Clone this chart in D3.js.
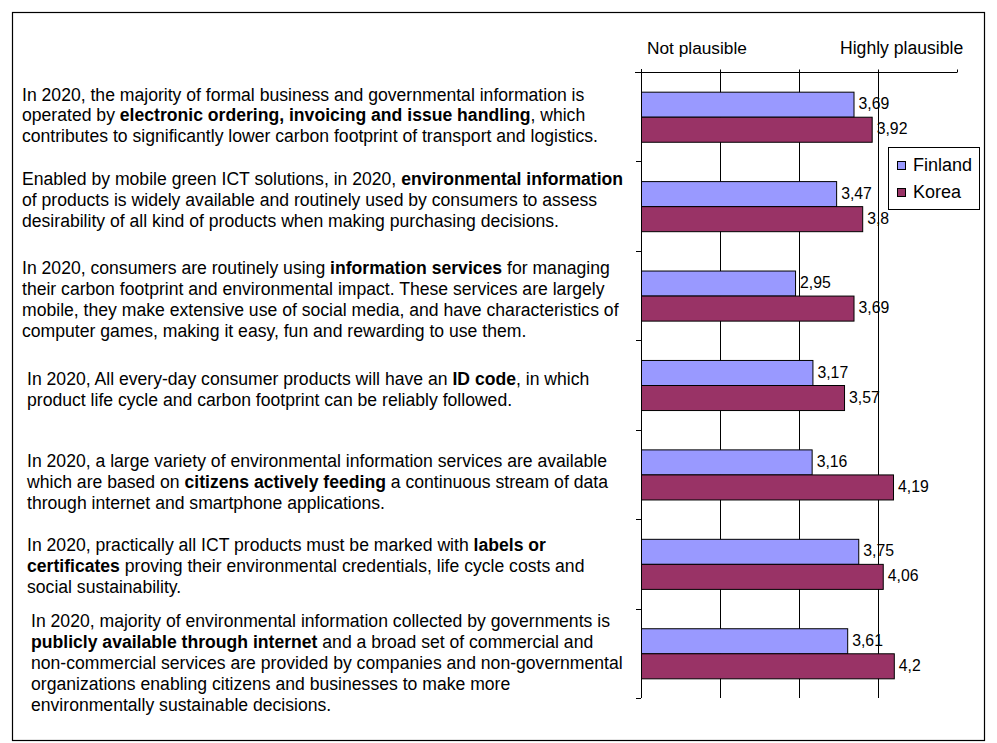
<!DOCTYPE html>
<html>
<head>
<meta charset="utf-8">
<script src="https://cdn.jsdelivr.net/npm/d3@7"></script>
<style>
  html, body { margin: 0; padding: 0; background: #fff; }
  svg { display: block; font-family: "Liberation Sans", Arial, sans-serif; }
</style>
</head>
<body>
<svg id="chart" width="997" height="743"></svg>
<script>
// ---- data ----
const categories = [
  ["In 2020, the majority of formal business and governmental information is",
   "operated by **electronic ordering, invoicing and issue handling**, which",
   "contributes to significantly lower carbon footprint of transport and logistics."],
  ["Enabled by mobile green ICT solutions, in 2020, **environmental information**",
   "of products is widely available and routinely used by consumers to assess",
   "desirability of all kind of products when making purchasing decisions."],
  ["In 2020, consumers are routinely using **information services** for managing",
   "their carbon footprint and environmental impact. These services are largely",
   "mobile, they make extensive use of social media, and have characteristics of",
   "computer games, making it easy, fun and rewarding to use them."],
  ["In 2020, All every-day consumer products will have an **ID code**, in which",
   "product life cycle and carbon footprint can be reliably followed."],
  ["In 2020, a large variety of environmental information services are available",
   "which are based on **citizens actively feeding** a continuous stream of data",
   "through internet and smartphone applications."],
  ["In 2020, practically all ICT products must be marked with **labels or**",
   "**certificates** proving their environmental credentials, life cycle costs and",
   "social sustainability."],
  ["In 2020, majority of environmental information collected by governments is",
   "**publicly available through internet** and a broad set of commercial and",
   "non-commercial services are provided by companies and non-governmental",
   "organizations enabling citizens and businesses to make more",
   "environmentally sustainable decisions."]
];
const seriesNames = ["Finland", "Korea"];
const finland = [3.69, 3.47, 2.95, 3.17, 3.16, 3.75, 3.61];
const korea   = [3.92, 3.80, 3.69, 3.57, 4.19, 4.06, 4.20];
const scaleTicks = [1, 2, 3, 4, 5];
const scaleLabels = ["Not plausible", "Highly plausible"];

// ---- layout ----
const svg = d3.select("#chart");
const colors = ["#9999FF", "#993366"];
const plot = { left: 641, right: 957, top: 72, bottom: 698 };
// text block placement (x start, first baseline offset from band top)
const textLayout = [
  { x: 22, y: 28.5 }, { x: 22, y: 24 }, { x: 22, y: 23 }, { x: 27, y: 45 },
  { x: 27, y: 37.5 }, { x: 27, y: 32 }, { x: 31, y: 18.5 }
];

svg.append("rect")
  .attr("x", 12.5).attr("y", 12.5).attr("width", 972).attr("height", 728)
  .attr("fill", "none").attr("stroke", "#000").attr("stroke-width", 1.2);

const x = d3.scaleLinear().domain([1, 5]).range([plot.left, plot.right]);
const y = d3.scaleBand().domain(d3.range(categories.length))
  .range([plot.top, plot.bottom]).paddingInner(0).paddingOuter(0);
const bandH = y.bandwidth();
const barH = bandH * 0.28;

// gridlines (ticks 2..4)
svg.append("g").selectAll("line")
  .data(scaleTicks.filter(t => t > 1 && t < 5))
  .join("line")
  .attr("x1", d => Math.round(x(d)) + 0.5).attr("x2", d => Math.round(x(d)) + 0.5)
  .attr("y1", plot.top).attr("y2", plot.bottom)
  .attr("stroke", "#000").attr("stroke-width", 1);

// top value axis
const xAxis = d3.axisTop(x).tickValues(scaleTicks).tickSize(3).tickFormat("");
const gx = svg.append("g").attr("transform", `translate(0,${plot.top + 0.5})`).call(xAxis);
gx.select(".domain").attr("d", `M${plot.left - 6},0H${plot.right}`).attr("stroke", "#000");
gx.selectAll(".tick line").attr("stroke", "#000");

// category axis (ticks at band boundaries)
const boundaries = d3.range(categories.length + 1).map(i => plot.top + i * bandH);
svg.append("line")
  .attr("x1", plot.left + 0.5).attr("x2", plot.left + 0.5)
  .attr("y1", plot.top - 3).attr("y2", plot.bottom)
  .attr("stroke", "#000");
svg.append("g").selectAll("line").data(boundaries).join("line")
  .attr("x1", plot.left - 5).attr("x2", plot.left)
  .attr("y1", d => Math.round(d) + 0.5).attr("y2", d => Math.round(d) + 0.5)
  .attr("stroke", "#000");

// bars
const series = [finland, korea];
const barsG = svg.append("g");
series.forEach((vals, s) => {
  const g = barsG.append("g");
  g.selectAll("rect").data(vals).join("rect")
    .attr("x", plot.left + 0.5)
    .attr("y", (d, i) => y(i) + bandH / 2 - barH + s * barH + 0.5)
    .attr("width", d => x(d) - plot.left)
    .attr("height", barH)
    .attr("fill", colors[s]).attr("stroke", "#000").attr("stroke-width", 1);
  g.selectAll("text").data(vals).join("text")
    .attr("x", d => x(d) + 5)
    .attr("y", (d, i) => y(i) + bandH / 2 - barH + s * barH + barH / 2 - 0.5)
    .attr("dy", "0.35em")
    .attr("font-size", 15.8).attr("fill", "#000")
    .text(d => String(d).replace(".", ","));
});

// scale labels
svg.append("text").attr("x", 647).attr("y", 54).attr("font-size", 17.3)
  .text(scaleLabels[0]);
svg.append("text").attr("x", 840).attr("y", 54).attr("font-size", 17.6)
  .text(scaleLabels[1]);

// category texts
const lineH = 20.9;
categories.forEach((lines, i) => {
  const t = svg.append("text").attr("font-size", 17.6).attr("fill", "#000");
  lines.forEach((ln, j) => {
    const parts = ln.split("**");
    const lineText = t.append("tspan")
      .attr("x", textLayout[i].x)
      .attr("y", y(i) + textLayout[i].y + j * lineH);
    parts.forEach((p, k) => {
      if (!p) return;
      lineText.append("tspan").attr("font-weight", k % 2 ? "bold" : "normal").text(p);
    });
  });
});

// legend
const lg = svg.append("g");
lg.append("rect").attr("x", 888.5).attr("y", 147.5).attr("width", 91).attr("height", 62)
  .attr("fill", "#fff").attr("stroke", "#000");
seriesNames.forEach((n, i) => {
  lg.append("rect").attr("x", 897.5).attr("y", 161.5 + i * 27).attr("width", 8).attr("height", 8)
    .attr("fill", colors[i]).attr("stroke", "#000");
  lg.append("text").attr("x", 913).attr("y", 171 + i * 27).attr("font-size", 18).text(n);
});
</script>
</body>
</html>
